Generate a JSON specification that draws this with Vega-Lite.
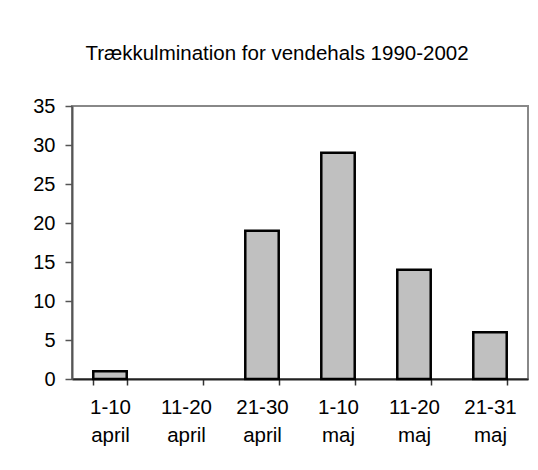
{
  "$schema": "https://vega.github.io/schema/vega-lite/v6.json",
  "width": 456,
  "height": 273,
  "autosize": "none",
  "padding": {"left": 72, "top": 106, "right": 10, "bottom": 91},
  "background": "white",
  "title": {
    "text": "Trækkulmination for vendehals 1990-2002",
    "font": "Liberation Sans",
    "fontSize": 20.5,
    "fontWeight": "normal",
    "color": "#000000",
    "anchor": "middle",
    "dx": -23,
    "baseline": "alphabetic",
    "offset": 16
  },
  "data": {
    "values": [
      {"periode": "1-10 april", "antal": 1},
      {"periode": "11-20 april", "antal": 0},
      {"periode": "21-30 april", "antal": 19},
      {"periode": "1-10 maj", "antal": 29},
      {"periode": "11-20 maj", "antal": 14},
      {"periode": "21-31 maj", "antal": 6}
    ]
  },
  "mark": {"type": "bar", "fill": "#c0c0c0", "stroke": "#000000", "strokeWidth": 2.5},
  "encoding": {
    "x": {
      "field": "periode",
      "type": "nominal",
      "sort": null,
      "scale": {"paddingInner": 0.56, "paddingOuter": 0.28},
      "axis": {
        "title": null,
        "labelAngle": 0,
        "labelExpr": "split(datum.label, ' ')",
        "labelFont": "Liberation Sans",
        "labelFontSize": 20.5,
        "labelColor": "#000000",
        "labelLineHeight": 28,
        "labelPadding": 12,
        "tickBand": "extent",
        "tickSize": 6,
        "tickColor": "#333333",
        "tickWidth": 1.5,
        "domainColor": "#222222",
        "domainWidth": 2
      }
    },
    "y": {
      "field": "antal",
      "type": "quantitative",
      "scale": {"domain": [0, 35], "nice": false},
      "axis": {
        "title": null,
        "values": [0, 5, 10, 15, 20, 25, 30, 35],
        "grid": false,
        "labelFont": "Liberation Sans",
        "labelFontSize": 20,
        "labelColor": "#000000",
        "labelPadding": 10,
        "tickSize": 7,
        "tickColor": "#555555",
        "tickWidth": 1.5,
        "domainColor": "#555555",
        "domainWidth": 2
      }
    },
    "strokeOpacity": {
      "condition": {"test": "datum.antal == 0", "value": 0},
      "value": 1
    }
  },
  "config": {
    "view": {"stroke": "#888888", "strokeWidth": 2}
  }
}
